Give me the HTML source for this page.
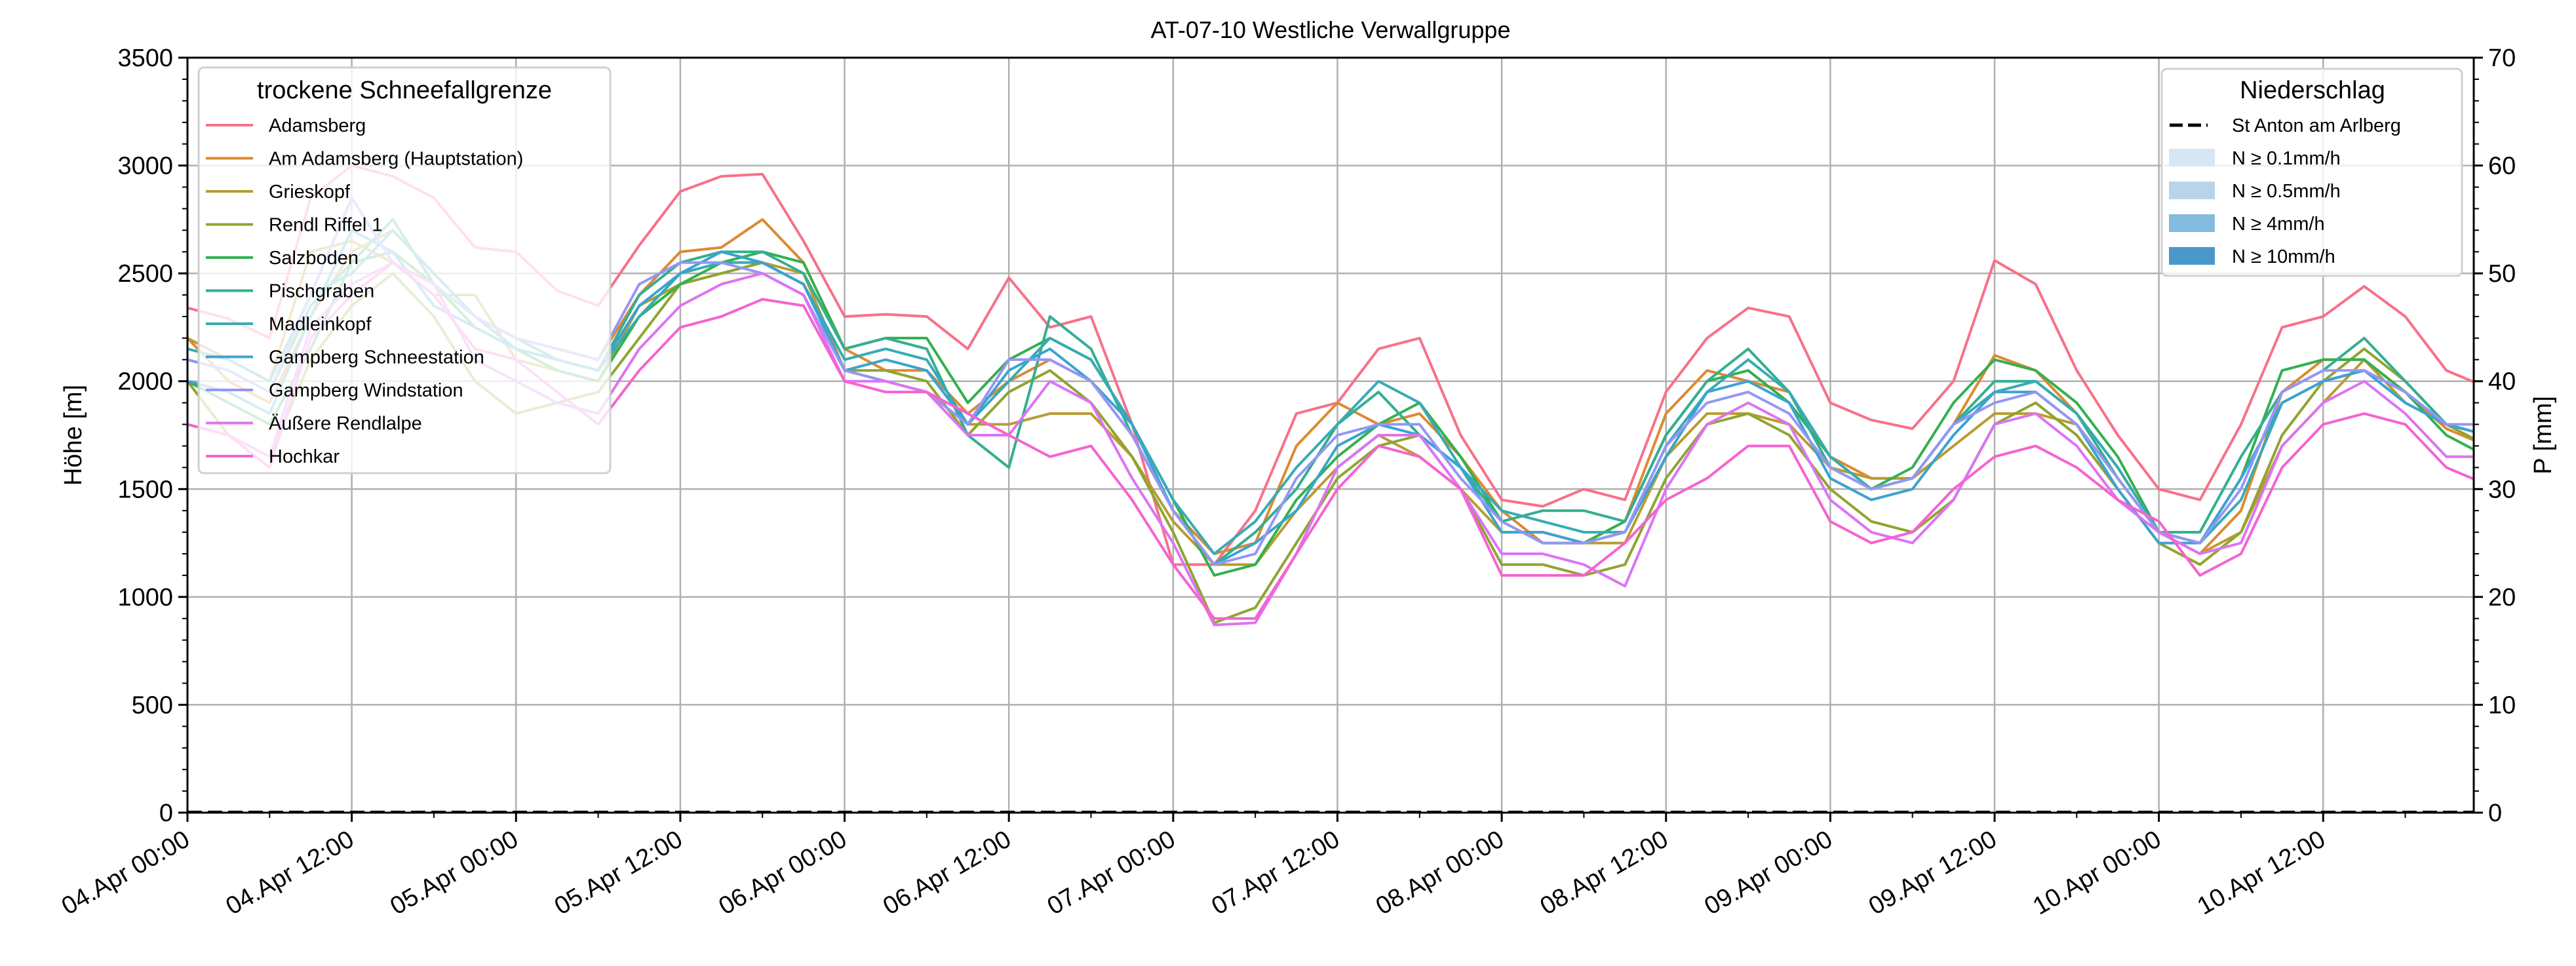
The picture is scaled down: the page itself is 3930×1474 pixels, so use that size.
<!DOCTYPE html>
<html><head><meta charset="utf-8"><style>
html,body{margin:0;padding:0;background:#fff;}
svg{display:block;font-family:"Liberation Sans","DejaVu Sans",sans-serif;}
</style></head><body>
<svg id="chart" width="3930" height="1474" viewBox="0 0 3930 1474" xmlns="http://www.w3.org/2000/svg">
<rect width="3930" height="1474" fill="#fff"/>
<defs><clipPath id="plotclip"><rect x="286" y="88" width="3488" height="1152"/></clipPath></defs>
<g id="grid"></g>
<g id="series" clip-path="url(#plotclip)"></g>
<g id="axes"></g>
<text x="2030" y="58" font-size="36" text-anchor="middle">AT-07-10 Westliche Verwallgruppe</text>
<text x="0" y="0" font-size="38" text-anchor="middle" transform="translate(124,664) rotate(-90)">Höhe [m]</text>
<text x="0" y="0" font-size="38" text-anchor="middle" transform="translate(3892,664) rotate(-90)">P [mm]</text>
<g id="legend1"></g>
<g id="legend2"></g>
</svg>
<script>
const hours = [0,3,6,9,12,15,18,21,24,27,30,33,36,39,42,45,48,51,54,57,60,63,66,69,72,75,78,81,84,87,90,93,96,99,102,105,108,111,114,117,120,123,126,129,132,135,138,141,144,147,150,153,156,159,162,165,168];
const stationNames = ["Adamsberg","Am Adamsberg (Hauptstation)","Grieskopf","Rendl Riffel 1","Salzboden","Pischgraben","Madleinkopf","Gampberg Schneestation","Gampberg Windstation","Äußere Rendlalpe","Hochkar"];
const adamsberg = [2340,2290,2200,2850,3000,2950,2850,2620,2600,2420,2350,2630,2880,2950,2960,2650,2300,2310,2300,2150,2480,2250,2300,1800,1150,1150,1400,1850,1900,2150,2200,1750,1450,1420,1500,1450,1950,2200,2340,2300,1900,1820,1780,2000,2560,2450,2050,1750,1500,1450,1800,2250,2300,2440,2300,2050,1970];
const amAdamsberg = [2200,2000,1900,2300,2600,2700,2500,2300,2200,2150,2100,2400,2600,2620,2750,2550,2150,2050,2050,1850,2000,2100,2000,1750,1400,1200,1250,1700,1900,1800,1850,1650,1400,1250,1250,1350,1850,2050,2000,1950,1650,1550,1550,1800,2120,2050,1850,1600,1300,1200,1400,1950,2100,2100,1950,1780,1700];
const grieskopf = [2200,2100,2000,2600,2650,2550,2400,2400,2100,2050,2000,2350,2450,2500,2550,2500,2050,2000,1950,1800,1800,1850,1850,1650,1350,1150,1150,1400,1600,1750,1650,1500,1300,1300,1250,1250,1650,1850,1850,1800,1600,1550,1550,1700,1850,1850,1800,1550,1300,1200,1300,1700,1900,2100,1900,1800,1750];
const rendlRiffel = [2000,1750,1650,2100,2350,2500,2300,2000,1850,1900,1950,2200,2450,2500,2550,2450,2050,2050,2000,1750,1950,2050,1900,1650,1300,880,950,1250,1550,1700,1750,1500,1150,1150,1100,1150,1550,1800,1850,1750,1500,1350,1300,1450,1800,1900,1750,1500,1250,1150,1300,1750,2000,2150,2000,1800,1700];
const salzboden = [2000,1900,1800,2150,2550,2600,2450,2250,2150,2050,2000,2300,2450,2550,2600,2550,2150,2200,2200,1900,2100,2200,2100,1800,1450,1100,1150,1450,1650,1800,1900,1650,1350,1250,1250,1350,1750,2000,2050,1900,1650,1500,1600,1900,2100,2050,1900,1650,1300,1250,1550,2050,2100,2100,1950,1750,1650];
const pischgraben = [2100,2050,1950,2350,2550,2750,2450,2300,2200,2100,2050,2400,2550,2600,2600,2500,2150,2200,2150,1750,1600,2300,2150,1750,1400,1150,1300,1500,1800,1950,1750,1600,1350,1400,1400,1350,1750,2000,2150,1950,1600,1500,1550,1800,2000,2000,1850,1550,1300,1300,1650,1950,2050,2200,2000,1800,1750];
const madleinkopf = [2150,2100,2000,2400,2500,2700,2500,2300,2150,2100,2050,2300,2500,2550,2550,2450,2100,2150,2100,1800,2000,2200,2100,1800,1450,1200,1350,1600,1800,2000,1900,1600,1400,1350,1300,1300,1700,1950,2100,1950,1650,1500,1550,1800,1950,2000,1850,1600,1300,1250,1450,1900,2000,2050,1950,1800,1750];
const gampbergSchnee = [2000,1950,1850,2300,2700,2600,2350,2250,2150,2100,2050,2350,2500,2600,2550,2450,2050,2100,2050,1800,2050,2150,2000,1800,1400,1150,1250,1400,1700,1800,1750,1600,1300,1300,1250,1300,1650,1950,2000,1900,1550,1450,1500,1750,1950,1950,1800,1500,1250,1250,1550,1900,2000,2050,1900,1800,1750];
const gampbergWind = [2100,2050,1950,2400,2850,2550,2450,2300,2200,2150,2100,2450,2550,2550,2500,2400,2050,2000,1950,1800,2100,2100,2000,1750,1400,1150,1200,1550,1750,1800,1800,1550,1350,1250,1250,1300,1700,1900,1950,1850,1600,1500,1550,1800,1900,1950,1800,1550,1300,1250,1500,1950,2050,2050,1950,1800,1800];
const aeussereRendlalpe = [1800,1750,1650,2250,2450,2550,2450,2100,2000,1900,1850,2150,2350,2450,2500,2400,2000,2000,1950,1750,1750,2000,1900,1550,1250,870,880,1200,1600,1750,1750,1500,1200,1200,1150,1050,1500,1800,1900,1800,1450,1300,1250,1450,1800,1850,1700,1450,1300,1200,1250,1700,1900,2000,1850,1650,1650];
const hochkar = [1800,1750,1600,2200,2400,2550,2400,2150,2100,1950,1800,2050,2250,2300,2380,2350,2000,1950,1950,1850,1750,1650,1700,1450,1150,900,900,1200,1500,1700,1650,1500,1100,1100,1100,1250,1450,1550,1700,1700,1350,1250,1300,1500,1650,1700,1600,1450,1350,1100,1200,1600,1800,1850,1800,1600,1520];
const precip = [0,0,0,0,0,0,0,0,0,0,0,0,0,0,0,0,0,0,0,0,0,0,0,0,0,0,0,0,0,0,0,0,0,0,0,0,0,0,0,0,0,0,0,0,0,0,0,0,0,0,0,0,0,0,0,0,0];
const xTickLabels = ["04.Apr 00:00","04.Apr 12:00","05.Apr 00:00","05.Apr 12:00","06.Apr 00:00","06.Apr 12:00","07.Apr 00:00","07.Apr 12:00","08.Apr 00:00","08.Apr 12:00","09.Apr 00:00","09.Apr 12:00","10.Apr 00:00","10.Apr 12:00"];
const yTicks = [0,500,1000,1500,2000,2500,3000,3500];
const y2Ticks = [0,10,20,30,40,50,60,70];
const precipLegendLabels = ["N ≥ 0.1mm/h","N ≥ 0.5mm/h","N ≥ 4mm/h","N ≥ 10mm/h"];

const allSeries = [adamsberg,amAdamsberg,grieskopf,rendlRiffel,salzboden,pischgraben,madleinkopf,gampbergSchnee,gampbergWind,aeussereRendlalpe,hochkar];
const colors = ["#f77189","#dd8a32","#b89c31","#90a431","#33b04f","#34ae91","#37abb4","#3ba3d0","#9596f4","#dc74f4","#f563d0"];
const patchColors = ["#d6e6f4","#b7d4ea","#82bbdb","#4a98c9"];
const NS="http://www.w3.org/2000/svg";
const L=286,R=3774,T=88,B=1240,XMAX=167;
const xs=h=>L+(R-L)*h/XMAX;
const ys=v=>B-(B-T)*v/3500;
const y2s=v=>B-(B-T)*v/70;
function mk(tag,attrs,parent){const e=document.createElementNS(NS,tag);for(const k in attrs)e.setAttribute(k,attrs[k]);parent.appendChild(e);return e;}
const grid=document.getElementById('grid'),axes=document.getElementById('axes'),ser=document.getElementById('series');
xTickLabels.forEach((lab,i)=>{const x=xs(i*12);
 if(i>0){const g=mk('line',{x1:x,x2:x,y1:T,y2:B,stroke:'#b0b0b0','stroke-width':2.5},grid);
 
 }
 const tk=mk('line',{x1:x,x2:x,y1:B,y2:B+14,stroke:'#000','stroke-width':3},axes);
 
 
 const t=mk('text',{x:0,y:0,'font-size':38,'text-anchor':'end',transform:`translate(${x+6},${B+48}) rotate(-30)`},axes);
 t.textContent=lab;
 
 
});
for(let h=6;h<XMAX;h+=12){mk('line',{x1:xs(h),x2:xs(h),y1:B,y2:B+8,stroke:'#000','stroke-width':2},axes);}
yTicks.forEach(v=>{const y=ys(v);
 if(v>0&&v<3500){const g=mk('line',{x1:L,x2:R,y1:y,y2:y,stroke:'#b0b0b0','stroke-width':2.5},grid);
 
 }
 mk('line',{x1:L-14,x2:L,y1:y,y2:y,stroke:'#000','stroke-width':3},axes);
 const t=mk('text',{x:L-22,y:y+13,'font-size':38,'text-anchor':'end'},axes);t.textContent=v;
 
 
});
for(let v=100;v<3500;v+=100){if(v%500)mk('line',{x1:L-8,x2:L,y1:ys(v),y2:ys(v),stroke:'#000','stroke-width':2},axes);}
y2Ticks.forEach(v=>{const y=y2s(v);
 mk('line',{x1:R,x2:R+14,y1:y,y2:y,stroke:'#000','stroke-width':3},axes);
 const t=mk('text',{x:R+22,y:y+13,'font-size':38},axes);t.textContent=v;
 
 
});
for(let v=2;v<70;v+=2){if(v%10)mk('line',{x1:R,x2:R+8,y1:y2s(v),y2:y2s(v),stroke:'#000','stroke-width':2},axes);}
allSeries.forEach((arr,i)=>{
 const p=mk('polyline',{points:arr.map((v,j)=>xs(hours[j])+','+ys(v)).join(' '),fill:'none',stroke:colors[i],'stroke-width':4,'stroke-linejoin':'round'},ser);
 
 
});
const pl=mk('polyline',{points:precip.map((v,j)=>xs(hours[j])+','+y2s(v)).join(' '),fill:'none',stroke:'#000','stroke-width':6,'stroke-dasharray':'22 9'},ser);


mk('rect',{x:L,y:T,width:R-L,height:B-T,fill:'none',stroke:'#000','stroke-width':3},axes);
const lg1=document.getElementById('legend1');
mk('rect',{x:303,y:103,width:628,height:619,rx:8,fill:'rgba(255,255,255,0.8)',stroke:'#d0d0d0','stroke-width':3},lg1);
const lt=mk('text',{x:617,y:150,'font-size':38,'text-anchor':'middle'},lg1);lt.textContent='trockene Schneefallgrenze';


stationNames.forEach((n,i)=>{const y=191+i*50.5;
 const ln=mk('line',{x1:314,x2:386,y1:y,y2:y,stroke:colors[i],'stroke-width':4},lg1);
 
 
 const t=mk('text',{x:410,y:y+10,'font-size':29},lg1);t.textContent=n;
 
 
});
const lg2=document.getElementById('legend2');
mk('rect',{x:3298,y:105,width:458,height:316,rx:8,fill:'rgba(255,255,255,0.8)',stroke:'#d0d0d0','stroke-width':3},lg2);
const t2=mk('text',{x:3528,y:150,'font-size':38,'text-anchor':'middle'},lg2);t2.textContent='Niederschlag';


mk('line',{x1:3310,x2:3368,y1:191,y2:191,stroke:'#000','stroke-width':5,'stroke-dasharray':'20 8'},lg2);
const st=mk('text',{x:3405,y:201,'font-size':29},lg2);st.textContent='St Anton am Arlberg';


precipLegendLabels.forEach((lab,i)=>{const y=227+i*50;
 const r=mk('rect',{x:3309,y:y,width:70,height:27,fill:patchColors[i]},lg2);
 
 
 const t=mk('text',{x:3405,y:y+24,'font-size':29},lg2);t.textContent=lab;
 
 
});
</script>
</body></html>
